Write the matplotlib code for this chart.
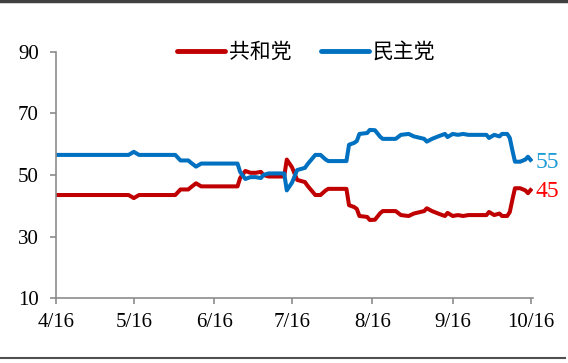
import matplotlib
matplotlib.use("Agg")
import matplotlib.pyplot as plt
from matplotlib.lines import Line2D

# 以 4/16 为第 0 天的天数
days = [0, 28, 30, 32, 46, 48, 51, 52, 54, 56, 70, 71, 73, 75, 77, 79, 80, 82,
        88, 89, 91, 93, 96, 97, 98, 100, 102, 104, 105, 112, 113, 115, 116, 117,
        120, 121, 123, 125, 126, 131, 133, 136, 138, 142, 143, 145, 148, 150,
        151, 153, 155, 157, 159, 166, 167, 169, 171, 172, 174, 175, 176, 177,
        179, 181, 182, 183]

dem = [56.5, 56.5, 57.5, 56.5, 56.5, 54.7, 54.7, 54.0, 52.7, 53.7, 53.7, 51.0,
       48.7, 49.3, 49.3, 49.0, 50.0, 50.5, 50.5, 45.0, 47.5, 51.6, 52.3, 53.5,
       54.5, 56.5, 56.5, 55.0, 54.5, 54.5, 59.8, 60.4, 61.0, 63.3, 63.6, 64.6,
       64.5, 62.4, 61.7, 61.7, 63.0, 63.3, 62.5, 61.7, 60.8, 61.7, 62.7, 63.3,
       62.3, 63.3, 63.0, 63.3, 63.0, 63.0, 62.0, 63.0, 62.5, 63.3, 63.3, 62.0,
       58.0, 54.3, 54.3, 55.0, 55.9, 54.9]

rep = [43.5, 43.5, 42.5, 43.5, 43.5, 45.3, 45.3, 46.0, 47.3, 46.3, 46.3, 49.0,
       51.3, 50.7, 50.7, 51.0, 50.0, 49.5, 49.5, 55.0, 52.5, 48.4, 47.7, 46.5,
       45.5, 43.5, 43.5, 45.0, 45.5, 45.5, 40.2, 39.6, 39.0, 36.7, 36.4, 35.4,
       35.5, 37.6, 38.3, 38.3, 37.0, 36.7, 37.5, 38.3, 39.2, 38.3, 37.3, 36.7,
       37.7, 36.7, 37.0, 36.7, 37.0, 37.0, 38.0, 37.0, 37.5, 36.7, 36.7, 38.0,
       42.0, 45.7, 45.7, 45.0, 44.1, 45.1]

tick_days = [0, 30, 61, 91, 122, 153, 183]
tick_labels = ['4/16', '5/16', '6/16', '7/16', '8/16', '9/16', '10/16']
y_ticks = [10, 30, 50, 70, 90]
end_labels = ['55', '45']

serif = 'Liberation Serif'
cjk = ['Noto Sans CJK SC', 'DejaVu Sans']

fig = plt.figure(figsize=(5.68, 3.63), dpi=100)
ax = fig.add_axes([0.0986, 0.178, 0.840, 0.680])

ax.plot(days, rep, color='#C00000', lw=2.9, label='共和党', solid_joinstyle='round')
ax.plot(days, dem, color='#0070C0', lw=2.9, label='民主党', solid_joinstyle='round')

ax.set_xlim(0, 184)
ax.set_ylim(10, 90)
ax.set_xticks(tick_days)
ax.set_xticklabels(tick_labels, fontfamily=serif, fontsize=15)
ax.set_yticks(y_ticks)
ax.set_yticklabels([str(v) for v in y_ticks], fontfamily=serif, fontsize=15)

for s in ['top', 'right']:
    ax.spines[s].set_visible(False)
for s in ['left', 'bottom']:
    ax.spines[s].set_color('#8C8C8C')
    ax.spines[s].set_linewidth(1.2)
ax.tick_params(axis='both', direction='out', length=4.5, width=1.2, color='#8C8C8C')
ax.tick_params(axis='y', pad=8)
ax.tick_params(axis='x', pad=6)

# 末端数值标注
ax.text(185, 54.0, end_labels[0], color='#1E9BD7', fontsize=17, fontfamily=serif,
        ha='left', va='center', clip_on=False)
ax.text(185, 44.6, end_labels[1], color='#FF0000', fontsize=17, fontfamily=serif,
        ha='left', va='center', clip_on=False)

leg = fig.legend(loc='center', bbox_to_anchor=(0.539, 0.857), ncol=2, frameon=False,
                 prop={'family': cjk, 'size': 15}, handlelength=2.3,
                 handletextpad=0.2, columnspacing=1.4)
for h in leg.get_lines():
    h.set_linewidth(3.5)
    h.set_solid_capstyle('round')

# 上下边框线
fig.add_artist(Line2D([0, 1], [0.996, 0.996], transform=fig.transFigure,
                      color='#404040', lw=2.5))
fig.add_artist(Line2D([0, 0.995], [0.013, 0.013], transform=fig.transFigure,
                      color='#505050', lw=1.5))

fig.savefig('out.png', dpi=100)
